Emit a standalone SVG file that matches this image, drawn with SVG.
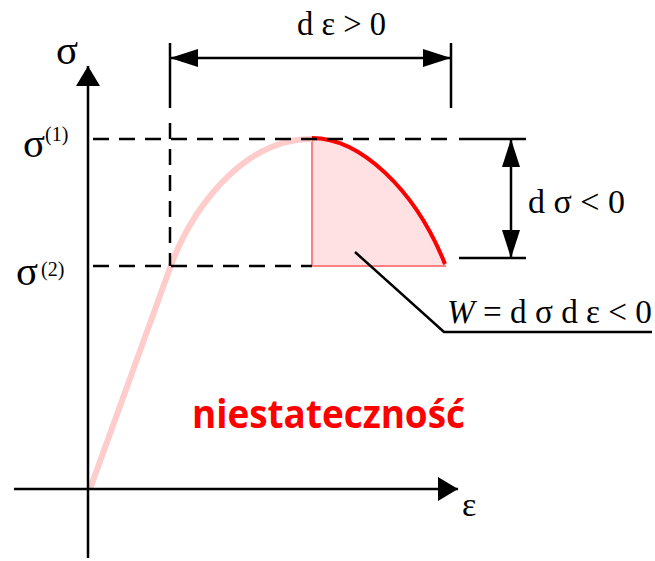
<svg xmlns="http://www.w3.org/2000/svg" width="655" height="561" viewBox="0 0 655 561">
<defs>
<style>
.ax{stroke:#000;stroke-width:2.5;fill:none}
.dash{stroke:#000;stroke-width:2.5;fill:none;stroke-dasharray:16 10}
.t{font-family:"Liberation Serif","Times New Roman",serif;fill:#000}
.s{font-family:"DejaVu Serif","Liberation Serif",serif;fill:#000}
</style>
<marker id="ah" viewBox="0 0 28 18" refX="28" refY="9" markerWidth="28" markerHeight="18" markerUnits="userSpaceOnUse" orient="auto-start-reverse">
<path d="M0,0 L28,9 L0,18 Z" fill="#000"/>
</marker>
<marker id="axh" viewBox="0 0 20 24" refX="20" refY="12" markerWidth="20" markerHeight="24" markerUnits="userSpaceOnUse" orient="auto">
<path d="M0,0 L20,12 L0,24 Z" fill="#000"/>
</marker>
</defs>
<rect width="655" height="561" fill="#fff"/>
<g id="area">
<path d="M312,139 C360,139 415,190 445,266 L312,266 Z" fill="#ffe1e4" stroke="#ff8080" stroke-width="2"/>
</g>
<g id="curve">
<path d="M90,489 L170,268 C190,213 240,139 312,139" fill="none" stroke="#ffcccc" stroke-width="6"/>
<path d="M312,138 C360,138 415,189 445,264" fill="none" stroke="#ff0000" stroke-width="4"/>
</g>
<g id="connectors">
<line class="ax" x1="88" y1="558" x2="88" y2="66" marker-end="url(#axh)"/>
<line class="ax" x1="14" y1="489" x2="458" y2="489" marker-end="url(#axh)"/>
<line class="dash" x1="93" y1="139" x2="447" y2="139"/>
<line class="dash" x1="93" y1="266" x2="312" y2="266"/>
<line class="dash" x1="170" y1="123" x2="170" y2="266"/>
<line class="ax" x1="170" y1="43" x2="170" y2="108"/>
<line class="ax" x1="451" y1="43" x2="451" y2="108"/>
<line class="ax" x1="170" y1="58" x2="451" y2="58" marker-start="url(#ah)" marker-end="url(#ah)"/>
<line class="ax" x1="459" y1="139" x2="526" y2="139"/>
<line class="ax" x1="459" y1="258" x2="526" y2="258"/>
<line class="ax" x1="511" y1="139" x2="511" y2="258" marker-start="url(#ah)" marker-end="url(#ah)"/>
<polyline class="ax" points="355,252 444,332 652,332" stroke-width="2"/>
</g>
<g id="labels">
<text class="t" x="56" y="64" font-size="42" textLength="22" lengthAdjust="spacingAndGlyphs">σ</text>
<text class="t" x="23" y="157" font-size="40" textLength="22" lengthAdjust="spacingAndGlyphs">σ</text>
<text class="t" x="45" y="141" font-size="20">(1)</text>
<text class="t" x="16" y="285" font-size="40" textLength="22" lengthAdjust="spacingAndGlyphs">σ</text>
<text class="t" x="41" y="276" font-size="20">(2)</text>
<text class="t" x="297" y="35" font-size="34" textLength="89" lengthAdjust="spacingAndGlyphs">d ε &gt; 0</text>
<text class="t" x="528" y="213" font-size="34" textLength="97" lengthAdjust="spacingAndGlyphs">d σ &lt; 0</text>
<text class="t" x="447" y="323" font-size="34" textLength="205" lengthAdjust="spacingAndGlyphs"><tspan font-style="italic">W</tspan> = d σ d ε &lt; 0</text>
<text class="t" x="462" y="516" font-size="34">ε</text>
<text x="192" y="428" font-family="'Open Sans','Liberation Sans',sans-serif" font-weight="bold" font-size="40" fill="#ff0000" textLength="273" lengthAdjust="spacingAndGlyphs">niestateczność</text>
</g>
</svg>
